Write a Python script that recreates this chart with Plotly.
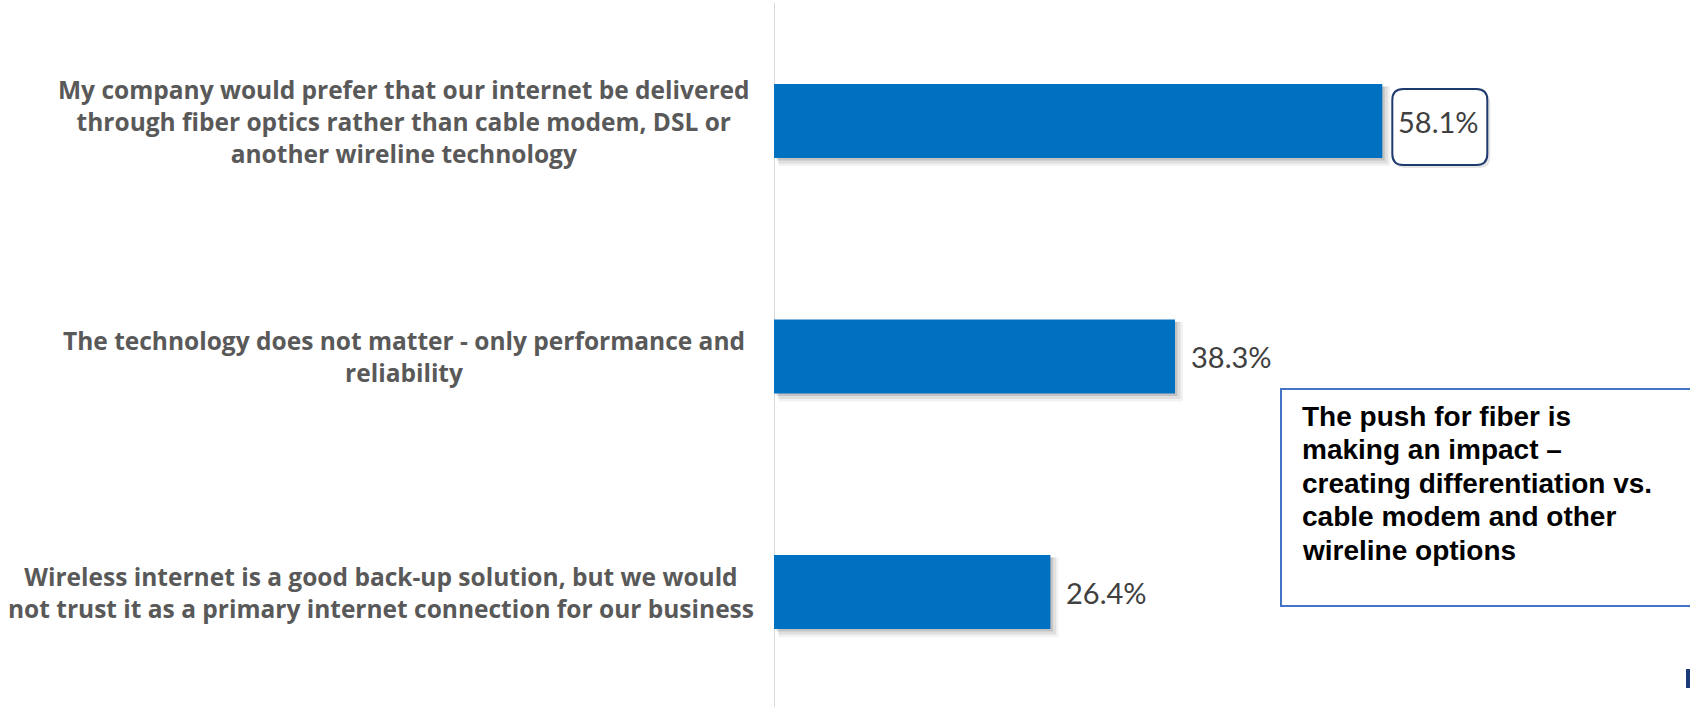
import plotly.graph_objects as go

# Survey statements (top to bottom) and share of respondents agreeing
categories = [
    "My company would prefer that our internet be delivered<br>through fiber optics rather than cable modem, DSL or<br>another wireline technology",
    "The technology does not matter - only performance and<br>reliability",
    "Wireless internet is a good back-up solution, but we would<br>not trust it as a primary internet connection for our business",
]
values = [58.1, 38.3, 26.4]
value_labels = [f"{v:.1f}%" for v in values]

callout_lines = [
    "The push for fiber is",
    "making an impact –",
    "creating differentiation vs.",
    "cable modem and other",
    "wireline options",
]

# ---- geometry (pixels) ----
W, H = 1690, 707
LEFT = 774                 # plot area starts at the category axis line
PX_PER_PCT = 10.47         # horizontal scale
PX_PER_CAT = 235.5         # vertical distance between category centres
FIRST_CENTER = 121         # pixel row of first category centre
BAR_PX = 74                # bar thickness

x_max = (W - LEFT) / PX_PER_PCT
y_top = -FIRST_CENTER / PX_PER_CAT
y_bottom = (len(categories) - 1) + (H - (FIRST_CENTER + (len(categories) - 1) * PX_PER_CAT)) / PX_PER_CAT
positions = list(range(len(categories)))

BAR_COLOR = "#0070C0"
LABEL_GREY = "#595959"
VALUE_GREY = "#404040"

fig = go.Figure()

# soft drop shadow under each bar (a few translucent layers)
for dx, dy, grow, alpha in [(5, 5, 3, 0.05), (4, 4, 1.5, 0.08), (2.5, 2.5, 0, 0.12)]:
    fig.add_trace(go.Bar(
        x=[v + grow / PX_PER_PCT for v in values],
        y=positions,
        base=dx / PX_PER_PCT,
        orientation="h",
        width=(BAR_PX + 2 * grow) / PX_PER_CAT,
        offset=(-BAR_PX / 2 - grow + dy) / PX_PER_CAT,
        marker=dict(color=f"rgba(0,0,0,{alpha})", line=dict(width=0)),
        hoverinfo="skip",
    ))

fig.add_trace(go.Bar(
    x=values,
    y=positions,
    orientation="h",
    width=BAR_PX / PX_PER_CAT,
    offset=-BAR_PX / 2 / PX_PER_CAT,
    marker=dict(color=BAR_COLOR, line=dict(width=0)),
    hovertemplate="%{x:.1f}%<extra></extra>",
))

annotations = []

# category labels, centred in the left-hand column
label_centers = [404, 404, 381]
for pos, text, cx in zip(positions, categories, label_centers):
    annotations.append(dict(
        x=(cx - LEFT) / (W - LEFT), xref="paper",
        y=pos, yref="y",
        text=text, showarrow=False,
        xanchor="center", yanchor="middle", align="center",
        font=dict(family="Open Sans", size=24.5, color=LABEL_GREY, weight="bold"),
    ))

# value labels just past the end of each bar
for pos, v, lab in zip(positions, values, value_labels):
    annotations.append(dict(
        x=v, xref="x", y=pos, yref="y",
        text=lab, showarrow=False,
        xanchor="left", yanchor="middle", xshift=14,
        font=dict(family="Lato", size=29, color=VALUE_GREY),
    ))

# callout text, one annotation per line
callout_left = 1300
callout_mid_rows = [416, 449.5, 483, 516.5, 550]
for line, row in zip(callout_lines, callout_mid_rows):
    annotations.append(dict(
        x=(callout_left - LEFT) / (W - LEFT), xref="paper",
        y=1 - row / H, yref="paper",
        text=line, showarrow=False,
        xanchor="left", yanchor="middle", align="left",
        font=dict(family="Liberation Sans", size=28, color="#000000", weight="bold"),
    ))

shapes = []

# category axis line
shapes.append(dict(
    type="line", xref="x", yref="paper",
    x0=0, x1=0, y0=0, y1=1 - 3 / H,
    line=dict(color="#D9D9D9", width=2), layer="below",
))

# rounded highlight box around the leading value label
def rounded_rect(x0, x1, yt, yb, r):
    return (f"M {x0 + r},{yt} L {x1 - r},{yt} Q {x1},{yt} {x1},{yt - r} "
            f"L {x1},{yb + r} Q {x1},{yb} {x1 - r},{yb} "
            f"L {x0 + r},{yb} Q {x0},{yb} {x0},{yb + r} "
            f"L {x0},{yt - r} Q {x0},{yt} {x0 + r},{yt} Z")

box_path = rounded_rect(10, 105, 32, -44, 11)
shadow_path = rounded_rect(12, 108, 29, -47, 11)
for path, fill, line in [
    (shadow_path, "rgba(0,0,0,0.10)", dict(width=0)),
    (box_path, "white", dict(color="#1F3A6E", width=2)),
]:
    shapes.append(dict(
        type="path", path=path,
        xref="x", yref="y", xsizemode="pixel", ysizemode="pixel",
        xanchor=values[0], yanchor=positions[0],
        fillcolor=fill, line=line, layer="below",
    ))

# callout frame (runs off the right edge)
shapes.append(dict(
    type="rect", xref="paper", yref="paper",
    x0=(1281 - LEFT) / (W - LEFT), x1=1.02,
    y0=1 - 606 / H, y1=1 - 389 / H,
    line=dict(color="#4472C4", width=2), fillcolor="rgba(255,255,255,0)",
))

# small navy corner mark
shapes.append(dict(
    type="rect", xref="paper", yref="paper",
    x0=(1686 - LEFT) / (W - LEFT), x1=1.0,
    y0=1 - 688 / H, y1=1 - 669 / H,
    line=dict(width=0), fillcolor="#1F3A7A",
))

fig.update_layout(
    width=W, height=H,
    margin=dict(l=LEFT, r=0, t=0, b=0, pad=0),
    barmode="overlay",
    showlegend=False,
    plot_bgcolor="white",
    paper_bgcolor="white",
    xaxis=dict(range=[0, x_max], visible=False, fixedrange=True),
    yaxis=dict(range=[y_bottom, y_top], visible=False, fixedrange=True),
    annotations=annotations,
    shapes=shapes,
)

fig.write_html("out.html", config={"displayModeBar": False})
